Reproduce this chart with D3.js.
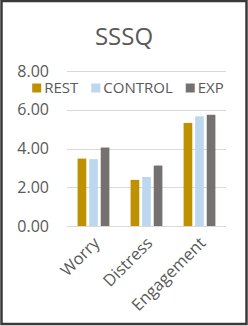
<!DOCTYPE html>
<html>
<head>
<meta charset="utf-8">
<script src="https://cdn.jsdelivr.net/npm/d3@7"></script>
<style>
  html, body { margin: 0; padding: 0; background: #fff; }
  svg { display: block; }
  text { font-family: "Open Sans", sans-serif; fill: #595959; }
</style>
</head>
<body>
<svg id="chart"></svg>
<script>
// Chart data
const categories = ["Worry", "Distress", "Engagement"];
const seriesNames = ["REST", "CONTROL", "EXP"];
const restValues = [3.48, 2.38, 5.32];
const controlValues = [3.45, 2.53, 5.66];
const expValues = [4.05, 3.12, 5.74];
const yTicks = [0, 2, 4, 6, 8];

const colors = { REST: "#BF9000", CONTROL: "#BDD7EE", EXP: "#767171" };

const width = 248, height = 326;
const margin = { top: 71, right: 22, bottom: 100, left: 67 };

const svg = d3.select("#chart")
    .attr("width", width)
    .attr("height", height);

// White background + frame
svg.append("rect")
    .attr("x", 1.5).attr("y", 1)
    .attr("width", width - 3).attr("height", height - 3)
    .attr("fill", "#fff")
    .attr("stroke", "#3a3a3a")
    .attr("stroke-width", 2.5);

const x0 = d3.scaleBand()
    .domain(categories)
    .range([margin.left, width - margin.right])
    .paddingInner(0.4)
    .paddingOuter(0.2);

const x1 = d3.scaleBand()
    .domain(seriesNames)
    .range([0, x0.bandwidth()])
    .paddingInner(0.25)
    .paddingOuter(0);

const y = d3.scaleLinear()
    .domain([0, 8])
    .range([height - margin.bottom, margin.top]);

// Gridlines
svg.append("g")
    .selectAll("line")
    .data(yTicks)
    .join("line")
    .attr("x1", margin.left)
    .attr("x2", width - margin.right)
    .attr("y1", d => Math.round(y(d)) + 0.5)
    .attr("y2", d => Math.round(y(d)) + 0.5)
    .attr("stroke", "#D9D9D9")
    .attr("stroke-width", 1);

// Y tick labels
svg.append("g")
    .selectAll("text")
    .data(yTicks)
    .join("text")
    .attr("x", 49)
    .attr("y", d => y(d))
    .attr("dy", "0.35em")
    .attr("text-anchor", "end")
    .style("font-size", "16px")
    .text(d => d3.format(".2f")(d));

// Bars
const seriesData = categories.map((c, i) => ({
    category: c,
    values: [
        { key: "REST", value: restValues[i] },
        { key: "CONTROL", value: controlValues[i] },
        { key: "EXP", value: expValues[i] }
    ]
}));

svg.append("g")
    .selectAll("g")
    .data(seriesData)
    .join("g")
    .attr("transform", d => `translate(${x0(d.category)},0)`)
    .selectAll("rect")
    .data(d => d.values)
    .join("rect")
    .attr("x", d => x1(d.key))
    .attr("y", d => y(d.value))
    .attr("width", x1.bandwidth())
    .attr("height", d => y(0) - y(d.value))
    .attr("fill", d => colors[d.key]);

// Category labels, rotated
svg.append("g")
    .selectAll("text")
    .data(categories)
    .join("text")
    .attr("transform", d => `translate(${x0(d) + x0.bandwidth() / 2 + 3},${y(0) + 14}) rotate(-45)`)
    .attr("text-anchor", "end")
    .attr("dy", "0.35em")
    .style("font-size", "16.5px")
    .text(d => d);

// Title
svg.append("text")
    .attr("x", 124)
    .attr("y", 45)
    .attr("text-anchor", "middle")
    .style("font-size", "24px")
    .text("SSSQ");

// Legend
const legend = svg.append("g");
const items = legend.selectAll("g")
    .data(seriesNames)
    .join("g");

items.append("rect")
    .attr("width", 9)
    .attr("height", 9)
    .attr("y", -4.5)
    .attr("fill", d => colors[d]);

items.append("text")
    .attr("x", 12)
    .attr("dy", "0.36em")
    .style("font-size", "15px")
    .text(d => d);

let offset = 0;
items.each(function () {
    const w = d3.select(this).select("text").node().getComputedTextLength();
    d3.select(this).attr("transform", `translate(${offset},0)`);
    offset += 12 + w + 13;
});
const legendWidth = offset - 13;
legend.attr("transform", `translate(${128 - legendWidth / 2},88)`);
</script>
</body>
</html>
